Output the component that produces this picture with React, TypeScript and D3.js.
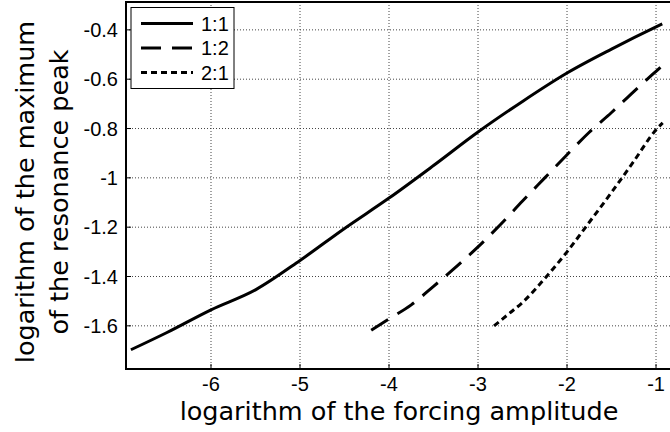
import React from 'react';
import * as d3 from 'd3';

// axis ticks
const xTicks = [-6, -5, -4, -3, -2, -1];
const yTicks = [-1.6, -1.4, -1.2, -1, -0.8, -0.6, -0.4];

// series 1:1
const x11 = [-6.9, -6.5, -6, -5.5, -5, -4.5, -4, -3.5, -3, -2.5, -2, -1.5, -1, -0.93];
const y11 = [-1.697, -1.628, -1.535, -1.454, -1.335, -1.205, -1.082, -0.95, -0.814, -0.69, -0.575, -0.478, -0.388, -0.376];

// series 1:2
const x12 = [-4.2, -4, -3.75, -3.5, -3.25, -3, -2.75, -2.5, -2.25, -2, -1.75, -1.5, -1.25, -1, -0.92];
const y12 = [-1.618, -1.572, -1.515, -1.44, -1.362, -1.28, -1.19, -1.094, -1.0, -0.906, -0.815, -0.735, -0.65, -0.568, -0.542];

// series 2:1
const x21 = [-2.82, -2.65, -2.5, -2.25, -2, -1.75, -1.5, -1.25, -1, -0.925];
const y21 = [-1.6, -1.55, -1.505, -1.408, -1.3, -1.18, -1.059, -0.933, -0.805, -0.777];

const series = [
  { label: '1:1', xs: x11, ys: y11, dash: null },
  { label: '1:2', xs: x12, ys: y12, dash: '20,11' },
  { label: '2:1', xs: x21, ys: y21, dash: '6,4' },
];

const W = 670;
const H = 432;
const left = 126;
const top = 2;
const bottom = 369;
const right = 670;

const labelFont = '"DejaVu Sans", sans-serif';
const tickFont = '"Liberation Sans", Arial, sans-serif';

export default function App() {
  const xScale = d3.scaleLinear().domain([-6.955, -0.843]).range([left, right]);
  const yScale = d3.scaleLinear().domain([-1.775, -0.287]).range([bottom, top]);

  const line = d3
    .line<[number, number]>()
    .x((d) => xScale(d[0]))
    .y((d) => yScale(d[1]))
    .curve(d3.curveMonotoneX);

  return (
    <svg
      width={W}
      height={H}
      style={{ position: 'absolute', left: 0, top: 0, background: '#fff' }}
    >
      <defs>
        <clipPath id="plot">
          <rect x={left} y={top} width={right - left} height={bottom - top} />
        </clipPath>
      </defs>

      {/* grid */}
      <g stroke="#444" strokeWidth={1} strokeDasharray="1,2">
        {xTicks.map((t) => (
          <line key={'gx' + t} x1={xScale(t)} x2={xScale(t)} y1={top} y2={bottom} />
        ))}
        {yTicks.map((t) => (
          <line key={'gy' + t} x1={left} x2={right} y1={yScale(t)} y2={yScale(t)} />
        ))}
      </g>

      {/* curves */}
      <g clipPath="url(#plot)" fill="none" stroke="#000" strokeWidth={3}>
        {series.map((s) => (
          <path
            key={s.label}
            d={line(s.xs.map((x, i) => [x, s.ys[i]] as [number, number])) || ''}
            strokeDasharray={s.dash || undefined}
          />
        ))}
      </g>

      {/* axes frame */}
      <g stroke="#000" strokeWidth={2} fill="none">
        <line x1={left} x2={right} y1={top} y2={top} />
        <line x1={left} x2={right} y1={bottom} y2={bottom} />
        <line x1={left} x2={left} y1={top - 1} y2={bottom + 1} />
        {xTicks.map((t) => (
          <line key={'tx' + t} x1={xScale(t)} x2={xScale(t)} y1={bottom} y2={bottom - 5} strokeWidth={1} />
        ))}
        {yTicks.map((t) => (
          <line key={'ty' + t} x1={left} x2={left + 5} y1={yScale(t)} y2={yScale(t)} strokeWidth={1} />
        ))}
      </g>

      {/* tick labels */}
      <g fontFamily={tickFont} fontSize={20} fill="#000">
        {xTicks.map((t) => (
          <text key={'lx' + t} x={xScale(t)} y={391} textAnchor="middle">
            {String(t)}
          </text>
        ))}
        {yTicks.map((t) => (
          <text key={'ly' + t} x={118} y={yScale(t)} dy="0.36em" textAnchor="end">
            {String(t)}
          </text>
        ))}
      </g>

      {/* axis labels */}
      <text x={399} y={420} textAnchor="middle" fontFamily={labelFont} fontSize={25.5}>
        logarithm of the forcing amplitude
      </text>
      <g transform="translate(34,192) rotate(-90)" fontFamily={labelFont} fontSize={25.5} textAnchor="middle">
        <text x={0} y={0}>logarithm of the maximum</text>
        <text x={0} y={33.5}>of the resonance peak</text>
      </g>

      {/* legend */}
      <g>
        <rect x={131} y={7.5} width={103} height={81} fill="#fff" stroke="#000" strokeWidth={1} />
        {series.map((s, i) => (
          <g key={'lg' + s.label} transform={`translate(0,${23.5 + i * 24.5})`}>
            <line x1={141} x2={193} y1={0} y2={0} stroke="#000" strokeWidth={3} strokeDasharray={s.dash || undefined} />
            <text x={201} y={0} dy="0.36em" fontFamily={tickFont} fontSize={20}>
              {s.label}
            </text>
          </g>
        ))}
      </g>
    </svg>
  );
}
